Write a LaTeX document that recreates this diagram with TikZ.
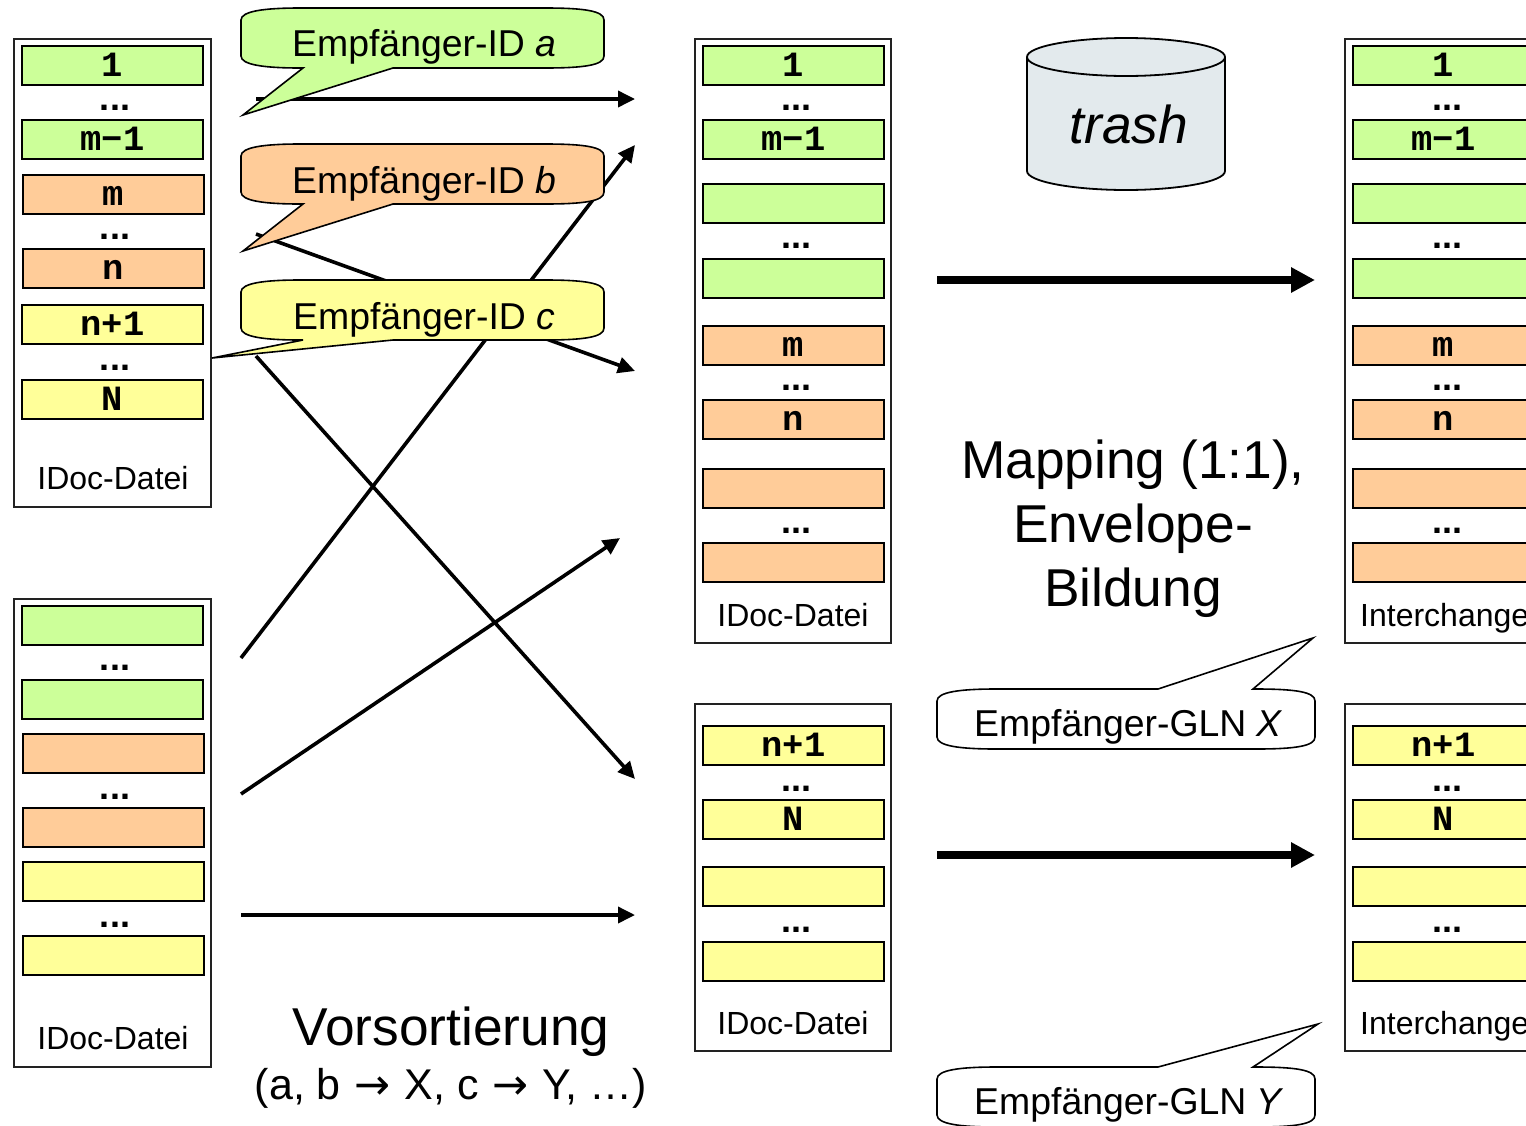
\documentclass[tikz,border=0pt]{standalone}
\usepackage{fontspec}
\setmainfont{Liberation Sans}
\setmonofont{Liberation Mono}
\newfontfamily\arrowfont{DejaVu Sans}
\usetikzlibrary{arrows.meta}
\definecolor{cgreen}{HTML}{CCFF99}
\definecolor{corange}{HTML}{FFCC99}
\definecolor{cyellow}{HTML}{FFFF99}
\definecolor{cdrum}{HTML}{E3EAED}
\definecolor{cframe}{HTML}{222222}
\tikzset{
  fieldbox/.style={draw=black,line width=1.8pt,minimum width=181pt,minimum height=39pt,inner sep=0pt,
    text height=21pt,text depth=0pt,font=\fontsize{35.5}{35.5}\selectfont\ttfamily\bfseries},
  framebox/.style={draw=cframe,line width=1.6pt,fill=white},
  dotsnode/.style={inner sep=0pt,font=\fontsize{36}{36}\selectfont\bfseries},
  boxlabel/.style={inner sep=0pt,font=\fontsize{32}{32}\selectfont},
  calloutshape/.style={draw=black,line width=1.6pt,line join=miter,miter limit=10},
  callouttext/.style={inner sep=0pt,anchor=base west,font=\fontsize{37.4}{37.4}\selectfont},
  bigtext/.style={inner sep=0pt,anchor=base,font=\fontsize{53.3}{53.3}\selectfont},
  thinarrow/.style={line width=3.6pt,-{Triangle[length=17pt,width=16pt]}},
  thickarrow/.style={line width=8pt,-{Triangle[length=24pt,width=24pt]}}
}
% name, left x, top y, colour, text
\newcommand{\fld}[5]{\node[fieldbox,fill=#4] (#1) at ({#2+90.5},{#3+19.5}) {#5};}
\newcommand{\dts}[3]{\node[dotsnode] (#1) at (#2,{#3+3}) {...};}
% colour, top y, tip x, tip y  (tail below)
\newcommand{\calloutdown}[4]{\draw[calloutshape,fill=#1]
  (241,{#2+12}) .. controls (241,{#2+3}) and (265,#2) .. (300,#2) -- (545,#2)
  .. controls (585,#2) and (604,{#2+3}) .. (604,{#2+12}) -- (604,{#2+48})
  .. controls (604,{#2+57}) and (585,{#2+60}) .. (545,{#2+60}) -- (393,{#2+60})
  -- (#3,#4) -- (303,{#2+60}) -- (300,{#2+60})
  .. controls (265,{#2+60}) and (241,{#2+57}) .. (241,{#2+48}) -- cycle;}
% top y, tip x, tip y (tail above)
\newcommand{\calloutup}[3]{\draw[calloutshape,fill=white]
  (937,{#1+12}) .. controls (937,{#1+3}) and (960,#1) .. (996,#1) -- (1158,#1)
  -- (#2,#3) -- (1253,#1) -- (1256,#1)
  .. controls (1296,#1) and (1315,{#1+3}) .. (1315,{#1+12}) -- (1315,{#1+48})
  .. controls (1315,{#1+57}) and (1296,{#1+60}) .. (1256,{#1+60}) -- (996,{#1+60})
  .. controls (960,{#1+60}) and (937,{#1+57}) .. (937,{#1+48}) -- cycle;}
\begin{document}
\begin{tikzpicture}[x=1pt,y=-1pt]
\path[use as bounding box,clip] (0,0) rectangle (1526,1125);
\fill[white] (0,0) rectangle (1526,1125);

% left frames
\draw[framebox] (14,39) rectangle (211,507);
\fld{la}{22}{46}{cgreen}{1}
\dts{lad}{115}{105}
\fld{lb}{22}{120}{cgreen}{m−1\hspace{3pt}}
\fld{lc}{23}{175}{corange}{m}
\dts{lcd}{115}{234}
\fld{ld}{23}{249}{corange}{n}
\fld{le}{22}{305}{cyellow}{n+1\hspace{3pt}}
\dts{led}{115}{365}
\fld{lf}{22}{380}{cyellow}{N}
\node[boxlabel] (l1label) at (113,478) {IDoc-Datei};

\draw[framebox] (14,599) rectangle (211,1067);
\fld{ma}{22}{606}{cgreen}{}
\dts{mad}{115}{665}
\fld{mb}{22}{680}{cgreen}{}
\fld{mc}{23}{734}{corange}{}
\dts{mcd}{115}{794}
\fld{md}{23}{808}{corange}{}
\fld{me}{23}{862}{cyellow}{}
\dts{med}{115}{922}
\fld{mf}{23}{936}{cyellow}{}
\node[boxlabel] (l2label) at (113,1038) {IDoc-Datei};

% middle frames
\draw[framebox] (695,39) rectangle (891,643);
\fld{na}{703}{46}{cgreen}{1}
\dts{nad}{796}{105}
\fld{nb}{703}{120}{cgreen}{m−1\hspace{3pt}}
\fld{nc}{703}{184}{cgreen}{}
\dts{ncd}{796}{243}
\fld{nd}{703}{259}{cgreen}{}
\fld{ne}{703}{326}{corange}{m}
\dts{ned}{796}{385}
\fld{nf}{703}{400}{corange}{n}
\fld{ng}{703}{469}{corange}{}
\dts{ngd}{796}{528}
\fld{nh}{703}{543}{corange}{}
\node[boxlabel] (n1label) at (793,615) {IDoc-Datei};

\draw[framebox] (695,704) rectangle (891,1051);
\fld{oa}{703}{726}{cyellow}{n+1\hspace{3pt}}
\dts{oad}{796}{786}
\fld{ob}{703}{800}{cyellow}{N}
\fld{oc}{703}{867}{cyellow}{}
\dts{ocd}{796}{927}
\fld{od}{703}{942}{cyellow}{}
\node[boxlabel] (n2label) at (793,1023) {IDoc-Datei};

% right frames
\draw[framebox] (1345,39) rectangle (1560,643);
\fld{pa}{1353}{46}{cgreen}{1}
\dts{pad}{1447}{105}
\fld{pb}{1353}{120}{cgreen}{m−1\hspace{3pt}}
\fld{pc}{1353}{184}{cgreen}{}
\dts{pcd}{1447}{243}
\fld{pd}{1353}{259}{cgreen}{}
\fld{pe}{1353}{326}{corange}{m}
\dts{ped}{1447}{385}
\fld{pf}{1353}{400}{corange}{n}
\fld{pg}{1353}{469}{corange}{}
\dts{pgd}{1447}{528}
\fld{ph}{1353}{543}{corange}{}
\node[boxlabel,anchor=west] (r1label) at (1360,618) {Interchange};

\draw[framebox] (1345,704) rectangle (1560,1051);
\fld{qa}{1353}{726}{cyellow}{n+1\hspace{3pt}}
\dts{qad}{1447}{786}
\fld{qb}{1353}{800}{cyellow}{N}
\fld{qc}{1353}{867}{cyellow}{}
\dts{qcd}{1447}{927}
\fld{qd}{1353}{942}{cyellow}{}
\node[boxlabel,anchor=west] (r2label) at (1360,1026) {Interchange};

% arrow ends
\coordinate (s1) at (256,99);   \coordinate (t1) at (635,99);
\coordinate (s2) at (256,234);  \coordinate (t2) at (635,371);
\coordinate (s3) at (256,356);  \coordinate (t3) at (635,779);
\coordinate (s4) at (241,658);  \coordinate (t4) at (635,145);
\coordinate (s5) at (241,794);  \coordinate (t5) at (620,538);
\coordinate (s6) at (241,915);  \coordinate (t6) at (635,915);
\coordinate (s7) at (937,280);  \coordinate (t7) at (1315,280);
\coordinate (s8) at (937,855);  \coordinate (t8) at (1315,855);
\draw[thinarrow] (s1) -- (t1);
\draw[thinarrow] (s2) -- (t2);
\draw[thinarrow] (s3) -- (t3);
\draw[thinarrow] (s4) -- (t4);
\draw[thinarrow] (s5) -- (t5);
\draw[thinarrow] (s6) -- (t6);
\draw[thickarrow] (s7) -- (t7);
\draw[thickarrow] (s8) -- (t8);

% callouts
\calloutdown{cgreen}{8}{243}{115}
\node[callouttext] (ca) at (292,56) {Empfänger-ID \textit{a}};
\calloutdown{corange}{144}{243}{251}
\node[callouttext] (cb) at (292,193) {Empfänger-ID \textit{b}};
\calloutdown{cyellow}{280}{212}{358}
\node[callouttext] (cc) at (293,329) {Empfänger-ID \textit{c}};
\calloutup{689}{1313}{638}
\node[callouttext] (cx) at (974,736) {Empfänger-GLN \textit{X}};
\calloutup{1067}{1318}{1024}
\node[callouttext] (cy) at (974,1114) {Empfänger-GLN \textit{Y}};

% trash drum
\draw[draw=black,line width=1.8pt,fill=cdrum]
  (1027,57) -- (1027,171) .. controls (1027,182) and (1075,190) .. (1126,190)
  .. controls (1177,190) and (1225,182) .. (1225,171) -- (1225,57)
  .. controls (1225,46) and (1177,38) .. (1126,38)
  .. controls (1075,38) and (1027,46) .. (1027,57) -- cycle;
\draw[draw=black,line width=1.8pt]
  (1027,57) .. controls (1027,68) and (1075,76) .. (1126,76)
  .. controls (1177,76) and (1225,68) .. (1225,57);
\node[bigtext] (trash) at (1129,143) {\textit{trash}};

% big texts
\node[bigtext] (map1) at (1133,478) {Mapping (1:1),};
\node[bigtext] (map2) at (1133,542) {Envelope-};
\node[bigtext] (map3) at (1133,606) {Bildung};
\node[bigtext] (vor) at (451,1045) {Vorsortierung};
\node[inner sep=0pt,anchor=base,font=\fontsize{43}{43}\selectfont] (vor2) at (451,1099) {(a, b\hspace{2pt} {\arrowfont →}\hspace{2pt} X, c\hspace{2pt} {\arrowfont →}\hspace{2pt} Y, …)};
\end{tikzpicture}
\end{document}
